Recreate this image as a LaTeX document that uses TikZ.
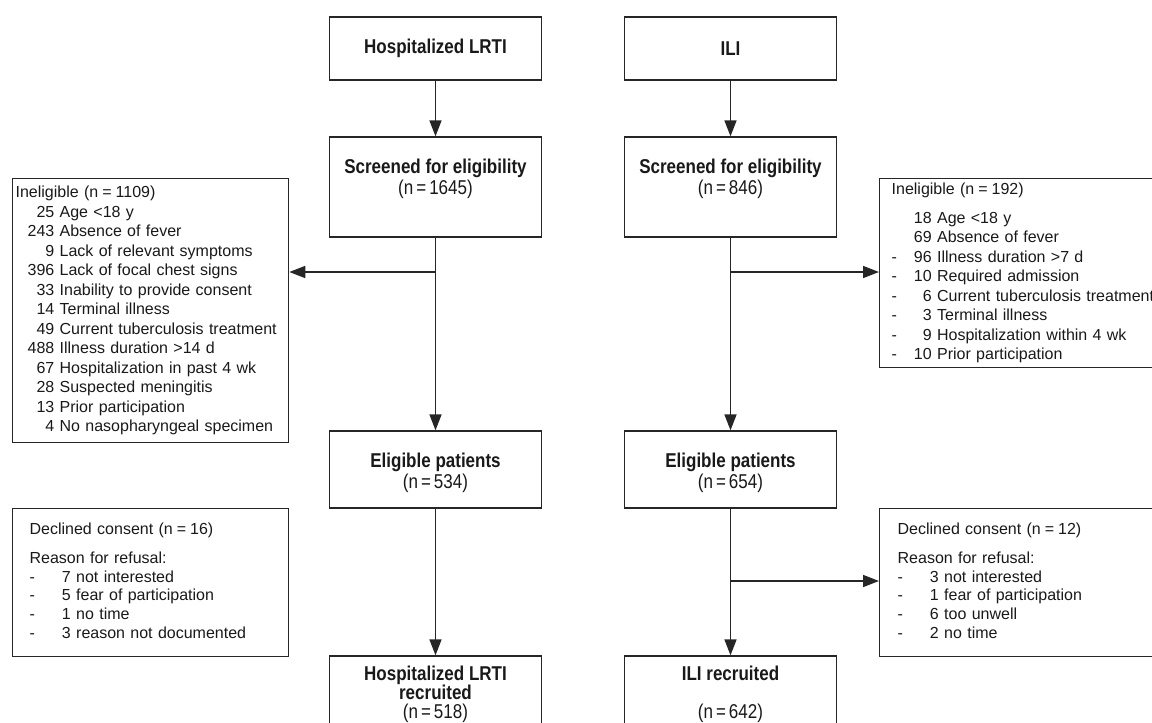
\documentclass[tikz,border=0pt]{standalone}
\usepackage{fontspec}
\setmainfont{Liberation Sans}
\newfontfamily\narrowfont[FakeStretch=0.85]{Liberation Sans}
\usepackage{tikz}
\usetikzlibrary{arrows.meta}
\newcommand{\eqsp}{\hspace{4pt}=\hspace{4pt}}

\begin{document}
\begin{tikzpicture}[x=1pt, y=-1pt,
    mainbox/.style={rectangle, draw=black!85, line width=1.3pt, minimum width=212pt, inner sep=0pt, align=center, text=black!90, font=\narrowfont\fontsize{20}{21}\selectfont},
    recbox/.style={mainbox, minimum height=70pt, font=\narrowfont\fontsize{20}{19}\selectfont},
    sidebox/.style={rectangle, draw=black!85, line width=1.3pt, anchor=north west, inner ysep=0pt, align=left, text=black!90, font=\fontsize{16}{19.5}\selectfont},
    declbox/.style={sidebox, minimum height=148pt, font=\fontsize{16}{18.7}\selectfont},
    arr/.style={draw=black!85, line width=1.6pt, -{Triangle[length=16pt,width=12pt]}}
]
\useasboundingbox (0,0) rectangle (1152,723);

% LRTI column
\node[mainbox, minimum height=63pt](hosp) at (435.5,48.5){\textbf{Hospitalized LRTI}};
\node[mainbox, minimum height=100pt](hospscreen) at (435.5,187){\textbf{Screened for eligibility}\\(n\hspace{3pt}=\hspace{3pt}1645)\\\mbox{}};
\node[mainbox, minimum height=77pt](hospelig) at (435.5,469.5){\rule{0pt}{22pt}\textbf{Eligible patients}\\(n\hspace{3pt}=\hspace{3pt}534)};
\node[recbox](hosprec) at (435.5,691){\rule{0pt}{20.5pt}\textbf{Hospitalized LRTI}\\\textbf{recruited}\\(n\hspace{3pt}=\hspace{3pt}518)};
\node[sidebox, text width=270pt, inner xsep=3pt, minimum height=264pt](hospinel) at (12,178){%
\begin{tabular}{@{\hspace{12pt}}r@{\ }l@{}}
\multicolumn{2}{@{}l}{Ineligible (n\eqsp1109)}\\
25 & Age <18 y\\
243 & Absence of fever\\
9 & Lack of relevant symptoms\\
396 & Lack of focal chest signs\\
33 & Inability to provide consent\\
14 & Terminal illness\\
49 & Current tuberculosis treatment\\
488 & Illness duration >14 d\\
67 & Hospitalization in past 4 wk\\
28 & Suspected meningitis\\
13 & Prior participation\\
4 & No nasopharyngeal specimen
\end{tabular}};
\node[declbox, text width=242pt, inner xsep=17pt](hospdecl) at (12,508){%
\begin{tabular}{@{}l@{\hspace{27pt}}l@{}}
\multicolumn{2}{@{}l}{Declined consent (n\eqsp16)}\\[10.3pt]
\multicolumn{2}{@{}l}{Reason for refusal:}\\
- & 7 not interested\\
- & 5 fear of participation\\
- & 1 no time\\
- & 3 reason not documented
\end{tabular}};

% ILI column
\node[mainbox, minimum height=63pt](ili) at (730.5,48.5){\textbf{ILI}};
\node[mainbox, minimum height=100pt](iliscreen) at (730.5,187){\textbf{Screened for eligibility}\\(n\hspace{3pt}=\hspace{3pt}846)\\\mbox{}};
\node[mainbox, minimum height=77pt](ilielig) at (730.5,469.5){\rule{0pt}{22pt}\textbf{Eligible patients}\\(n\hspace{3pt}=\hspace{3pt}654)};
\node[recbox](ilirec) at (730.5,691){\rule{0pt}{20.5pt}\textbf{ILI recruited}\\[19pt](n\hspace{3pt}=\hspace{3pt}642)};
\node[sidebox, text width=262pt, inner xsep=12pt, minimum height=189pt](iliinel) at (879,178){%
\begin{tabular}{@{}l@{\hspace{17pt}}r@{\ }l@{}}
\multicolumn{3}{@{}l}{Ineligible (n\eqsp192)}\\[9.5pt]
 & 18 & Age <18 y\\
 & 69 & Absence of fever\\
- & 96 & Illness duration >7 d\\
- & 10 & Required admission\\
- & 6 & Current tuberculosis treatment\\
- & 3 & Terminal illness\\
- & 9 & Hospitalization within 4 wk\\
- & 10 & Prior participation
\end{tabular}};
\node[declbox, text width=250pt, inner xsep=18pt](ilidecl) at (879,508){%
\begin{tabular}{@{}l@{\hspace{27pt}}l@{}}
\multicolumn{2}{@{}l}{Declined consent (n\eqsp12)}\\[10.3pt]
\multicolumn{2}{@{}l}{Reason for refusal:}\\
- & 3 not interested\\
- & 1 fear of participation\\
- & 6 too unwell\\
- & 2 no time
\end{tabular}};

% branch points
\coordinate (hospsplit) at (435.5,272);
\coordinate (ilisplit) at (730.5,272);
\coordinate (ilisplit2) at (730.5,581);

\draw[arr] (hosp) -- (hospscreen);
\draw[arr] (hospscreen) -- (hospelig);
\draw[arr] (hospsplit) -- (hospsplit -| hospinel.east);
\draw[arr] (hospelig) -- (hosprec);
\draw[arr] (ili) -- (iliscreen);
\draw[arr] (iliscreen) -- (ilielig);
\draw[arr] (ilisplit) -- (ilisplit -| iliinel.west);
\draw[arr] (ilielig) -- (ilirec);
\draw[arr] (ilisplit2) -- (ilisplit2 -| ilidecl.west);
\end{tikzpicture}
\end{document}
